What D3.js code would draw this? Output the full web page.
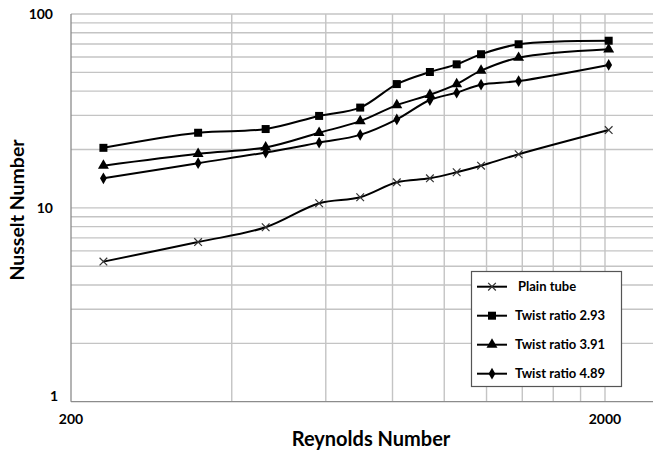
<!DOCTYPE html>
<html>
<head>
<meta charset="utf-8">
<script src="https://cdn.jsdelivr.net/npm/d3@7"></script>
<style>
    body { margin: 0; background: #fff; }
    svg { display: block; font-family: Lato, "Open Sans", sans-serif; }
</style>
</head>
<body>
<div class="chart"></div>
<script>
const reynolds = [230, 346, 463, 583, 696, 815, 940, 1055, 1172, 1378, 2032]
const plainTube = [5.28, 6.66, 7.94, 10.56, 11.34, 13.54, 14.2, 15.26, 16.5, 18.9, 25.2]
const twist293 = [20.4, 24.4, 25.5, 29.8, 32.9, 43.5, 50.2, 55.0, 62.0, 69.8, 72.8]
const twist391 = [16.5, 19.0, 20.5, 24.4, 28.0, 33.9, 38.3, 43.5, 51.0, 59.5, 65.8]
const twist489 = [14.2, 17.0, 19.3, 21.7, 23.8, 28.6, 36.0, 39.3, 43.2, 45.1, 54.6]
const seriesNames = ["Plain tube", "Twist ratio 2.93", "Twist ratio 3.91", "Twist ratio 4.89"]
const xTickLabels = [200, 2000]
const yTickLabels = [1, 10, 100]

const width = 653, height = 453
const plotLeft = 71, plotTop = 14, plotBottom = 401.7

const series = [
    { name: seriesNames[0], values: plainTube, marker: "x" },
    { name: seriesNames[1], values: twist293, marker: "square" },
    { name: seriesNames[2], values: twist391, marker: "triangle" },
    { name: seriesNames[3], values: twist489, marker: "diamond" }
]

const x = d3.scaleLog().domain([200, 2000]).range([plotLeft, 605])
const y = d3.scaleLog().domain([1, 100]).range([plotBottom, plotTop])

const svg = d3.select(".chart")
    .append("svg")
    .attr("width", width)
    .attr("height", height)

// gridlines (multiples of 200 on x, 1..9 x decade on y)
const xGrid = d3.range(2, 10).map(k => 200 * k).concat([2000])
svg.selectAll(".xgrid")
    .data(xGrid)
    .join("line")
    .attr("x1", d => x(d)).attr("x2", d => x(d))
    .attr("y1", plotTop).attr("y2", plotBottom)
    .attr("stroke", "#c4c4c4")
    .attr("stroke-width", 1.4)

const yGrid = []
for (let dec of [1, 10]) for (let k = 2; k <= 10; k++) yGrid.push(dec * k)
svg.selectAll(".ygrid")
    .data(yGrid)
    .join("line")
    .attr("x1", plotLeft).attr("x2", width)
    .attr("y1", d => y(d)).attr("y2", d => y(d))
    .attr("stroke", "#c4c4c4")
    .attr("stroke-width", 1.4)

// axis lines
svg.append("line")
    .attr("x1", plotLeft).attr("x2", plotLeft)
    .attr("y1", plotTop).attr("y2", plotBottom)
    .attr("stroke", "#8c8c8c").attr("stroke-width", 1.3)
svg.append("line")
    .attr("x1", plotLeft).attr("x2", width)
    .attr("y1", plotBottom).attr("y2", plotBottom)
    .attr("stroke", "#8c8c8c").attr("stroke-width", 1.3)

// tick labels
svg.selectAll(".ylab")
    .data(yTickLabels)
    .join("text")
    .attr("x", d => d === 1 ? 58 : 53)
    .attr("y", d => (d === 1 ? y(d) - 6 : y(d)))
    .attr("dy", "0.35em")
    .attr("text-anchor", "end")
    .style("font-size", "14px")
    .style("font-weight", "bold")
    .text(d => d)

svg.selectAll(".xlab")
    .data(xTickLabels)
    .join("text")
    .attr("x", d => x(d))
    .attr("y", 419)
    .attr("dy", "0.35em")
    .attr("text-anchor", "middle")
    .style("font-size", "14px")
    .style("font-weight", "bold")
    .text(d => d)

// axis titles
svg.append("text")
    .attr("transform", "translate(17, 210) rotate(-90)")
    .attr("dy", "0.35em")
    .attr("text-anchor", "middle")
    .style("font-size", "19.5px")
    .style("font-weight", "bold")
    .text("Nusselt Number")

svg.append("text")
    .attr("x", 371)
    .attr("y", 439)
    .attr("dy", "0.35em")
    .attr("text-anchor", "middle")
    .style("font-size", "20px")
    .style("font-weight", "bold")
    .text("Reynolds Number")

// markers
const symbols = {
    square: d3.symbol().type(d3.symbolSquare).size(64),
    triangle: d3.symbol().type(d3.symbolTriangle).size(52),
    diamond: d3.symbol().type(d3.symbolDiamond).size(40),
    x: d3.symbol().type(d3.symbolTimes).size(40)
}

function drawMarker(g, type) {
    if (type === "x") {
        g.append("path").attr("d", symbols.x())
            .attr("fill", "none").attr("stroke", "#333").attr("stroke-width", 1.2)
    } else {
        g.append("path").attr("d", symbols[type]()).attr("fill", "#000")
    }
}

const line = d3.line()
    .x(d => x(d.re))
    .y(d => y(d.nu))
    .curve(d3.curveCatmullRom.alpha(0.5))

series.forEach(s => {
    const pts = reynolds.map((re, i) => ({ re, nu: s.values[i] }))
    svg.append("path")
        .datum(pts)
        .attr("fill", "none")
        .attr("stroke", "#000")
        .attr("stroke-width", 2)
        .attr("d", line)
    pts.forEach(p => {
        const g = svg.append("g").attr("transform", `translate(${x(p.re)}, ${y(p.nu)})`)
        drawMarker(g, s.marker)
    })
})

// legend
const legend = svg.append("g")
legend.append("rect")
    .attr("x", 471.5).attr("y", 271.5)
    .attr("width", 150).attr("height", 115)
    .attr("fill", "#fff")
    .attr("stroke", "#555")
    .attr("stroke-width", 1.2)

series.forEach((s, i) => {
    const cy = 286.7 + i * 29
    legend.append("line")
        .attr("x1", 477).attr("x2", 507)
        .attr("y1", cy).attr("y2", cy)
        .attr("stroke", "#000").attr("stroke-width", 2)
    drawMarker(legend.append("g").attr("transform", `translate(492, ${cy})`), s.marker)
    legend.append("text")
        .attr("x", i === 0 ? 518 : 515)
        .attr("y", cy)
        .attr("dy", "0.35em")
        .style("font-size", "13px")
        .style("font-weight", "bold")
        .text(s.name)
})
</script>
</body>
</html>
